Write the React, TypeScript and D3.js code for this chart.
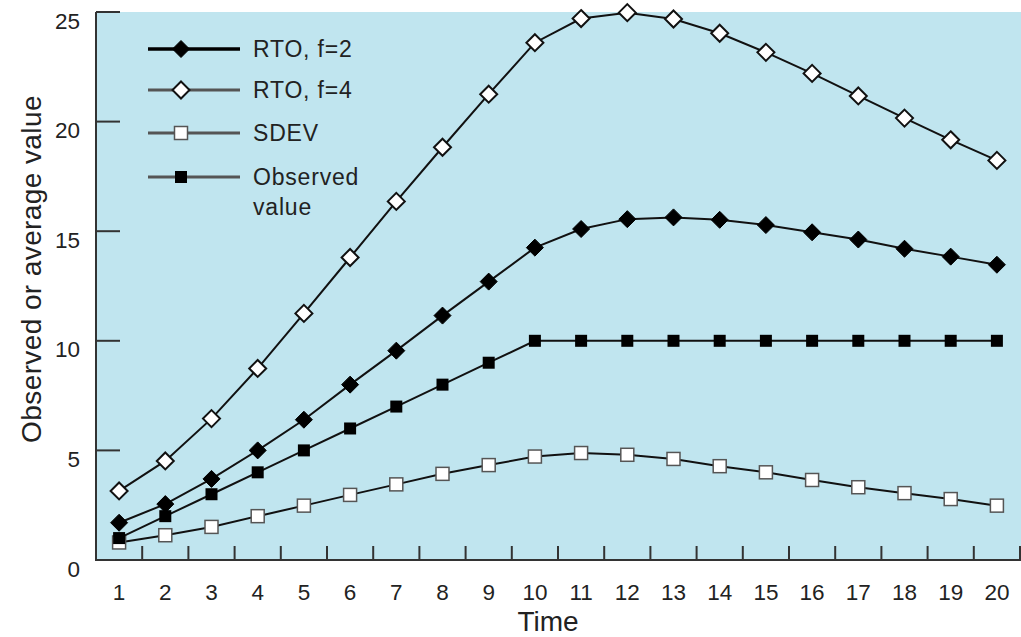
import React from "react";
import * as d3 from "d3";

const times = d3.range(1, 21);
const rtoF2 = [1.7, 2.55, 3.7, 5.0, 6.4, 8.0, 9.55, 11.15, 12.7, 14.25, 15.1, 15.55, 15.63, 15.52, 15.28, 14.95, 14.62, 14.2, 13.84, 13.47];
const rtoF4 = [3.15, 4.52, 6.45, 8.74, 11.25, 13.8, 16.36, 18.83, 21.25, 23.6, 24.7, 24.97, 24.68, 24.03, 23.16, 22.2, 21.17, 20.16, 19.17, 18.23];
const sdev = [0.8, 1.13, 1.51, 2.0, 2.48, 2.97, 3.45, 3.93, 4.33, 4.72, 4.88, 4.8, 4.61, 4.28, 4.0, 3.65, 3.32, 3.05, 2.78, 2.48];
const observed = [1, 2, 3, 4, 5, 6, 7, 8, 9, 10, 10, 10, 10, 10, 10, 10, 10, 10, 10, 10];
const yTicks = [0, 5, 10, 15, 20, 25];
const legendLabels = ["RTO, f=2", "RTO, f=4", "SDEV", "Observed"];

const W = 1021, H = 637;
const left = 96, right = 1020, top = 12, bottom = 560;
const FONT = "'Liberation Sans', Arial, Helvetica, sans-serif";
const TXT = "#222";

type Kind = "fdiamond" | "odiamond" | "osquare" | "fsquare";

function Marker({ kind, x, y }: { kind: Kind; x: number; y: number }) {
  if (kind === "fdiamond" || kind === "odiamond") {
    const r = 8.5;
    const p = `M${x},${y - r}L${x + r},${y}L${x},${y + r}L${x - r},${y}Z`;
    return kind === "fdiamond" ? (
      <path d={p} fill="#000" stroke="#000" strokeWidth={1} />
    ) : (
      <path d={p} fill="#fff" stroke="#111" strokeWidth={2} />
    );
  }
  const s = kind === "fsquare" ? 12 : 13;
  return kind === "fsquare" ? (
    <rect x={x - s / 2} y={y - s / 2} width={s} height={s} fill="#000" />
  ) : (
    <rect x={x - s / 2} y={y - s / 2} width={s} height={s} fill="#fff" stroke="#555" strokeWidth={1.5} />
  );
}

export default function App() {
  const x = d3.scaleLinear().domain([0.5, 20.5]).range([left, right]);
  const y = d3.scaleLinear().domain([0, 25]).range([bottom, top]);
  const line = d3
    .line<number>()
    .x((_, i) => x(times[i]))
    .y((d) => y(d));

  const series: { data: number[]; kind: Kind }[] = [
    { data: sdev, kind: "osquare" },
    { data: observed, kind: "fsquare" },
    { data: rtoF2, kind: "fdiamond" },
    { data: rtoF4, kind: "odiamond" },
  ];

  const xTickPos = d3.range(1.5, 21, 1);

  const legendRows = [
    { kind: "fdiamond" as Kind, y: 49, stroke: "#000", sw: 3.5 },
    { kind: "odiamond" as Kind, y: 90, stroke: "#555", sw: 3 },
    { kind: "osquare" as Kind, y: 133, stroke: "#555", sw: 3 },
    { kind: "fsquare" as Kind, y: 177, stroke: "#555", sw: 3 },
  ];

  return (
    <svg width={W} height={H} style={{ position: "absolute", left: 0, top: 0 }}>
      <rect x={left} y={top} width={W - left} height={bottom - top} fill="#c0e5ef" />
      {/* axes */}
      <line x1={left} y1={top} x2={left} y2={bottom + 1} stroke="#333" strokeWidth={2} />
      <line x1={left - 1} y1={bottom} x2={right + 1} y2={bottom} stroke="#333" strokeWidth={2} />
      {yTicks.map((t) => (
        <g key={t}>
          <line x1={left} x2={left + 24} y1={y(t)} y2={y(t)} stroke="#333" strokeWidth={2} />
          <text x={80} y={y(t) + 9} textAnchor="end" dominantBaseline="central" fontFamily={FONT} fontSize={22.5} fill={TXT}>
            {t}
          </text>
        </g>
      ))}
      {xTickPos.map((t) => (
        <line key={t} x1={x(t)} x2={x(t)} y1={bottom} y2={bottom - 14} stroke="#333" strokeWidth={2} />
      ))}
      {times.map((t) => (
        <text key={t} x={x(t)} y={592} textAnchor="middle" dominantBaseline="central" fontFamily={FONT} fontSize={22.5} fill={TXT}>
          {t}
        </text>
      ))}
      <text x={548} y={621} textAnchor="middle" dominantBaseline="central" fontFamily={FONT} fontSize={28} fill={TXT}>
        Time
      </text>
      <text
        transform={`translate(31,269) rotate(-90)`}
        textAnchor="middle"
        dominantBaseline="central"
        fontFamily={FONT}
        fontSize={28}
        letterSpacing={0.4}
        fill={TXT}
      >
        Observed or average value
      </text>
      {/* series */}
      {series.map((s, si) => (
        <g key={si}>
          <path d={line(s.data) || ""} fill="none" stroke="#111" strokeWidth={2} />
          {s.data.map((v, i) => (
            <Marker key={i} kind={s.kind} x={x(times[i])} y={y(v)} />
          ))}
        </g>
      ))}
      {/* legend */}
      {legendRows.map((r, i) => (
        <g key={i}>
          <line x1={148} x2={240} y1={r.y} y2={r.y} stroke={r.stroke} strokeWidth={r.sw} />
          <Marker kind={r.kind} x={181} y={r.y} />
          <text x={253} y={r.y} dominantBaseline="central" fontFamily={FONT} fontSize={23} letterSpacing={0.8} fill={TXT}>
            {legendLabels[i]}
          </text>
        </g>
      ))}
      <text x={253} y={207} dominantBaseline="central" fontFamily={FONT} fontSize={23} letterSpacing={0.8} fill={TXT}>
        value
      </text>
    </svg>
  );
}
